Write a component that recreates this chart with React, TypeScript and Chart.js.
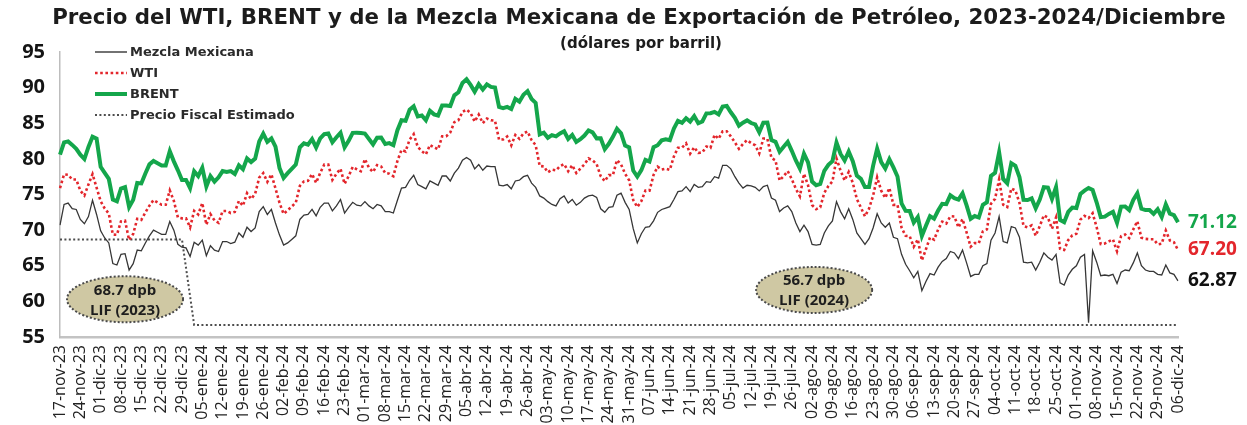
import { useEffect, useRef } from 'react';
import { Chart, registerables } from 'chart.js';
Chart.register(...registerables);

const TITLE = 'Precio del WTI, BRENT y de la Mezcla Mexicana de Exportación de Petróleo, 2023-2024/Diciembre';
const SUBTITLE = '(dólares por barril)';

// Friday labels (one per week)
const weekLabels = [
  '17-nov-23', '24-nov-23', '01-dic-23', '08-dic-23', '15-dic-23', '22-dic-23', '29-dic-23',
  '05-ene-24', '12-ene-24', '19-ene-24', '26-ene-24', '02-feb-24', '09-feb-24', '16-feb-24', '23-feb-24',
  '01-mar-24', '08-mar-24', '15-mar-24', '22-mar-24', '29-mar-24', '05-abr-24', '12-abr-24', '19-abr-24',
  '26-abr-24', '03-may-24', '10-may-24', '17-may-24', '24-may-24', '31-may-24', '07-jun-24', '14-jun-24',
  '21-jun-24', '28-jun-24', '05-jul-24', '12-jul-24', '19-jul-24', '26-jul-24', '02-ago-24', '09-ago-24',
  '16-ago-24', '23-ago-24', '30-ago-24', '06-sep-24', '13-sep-24', '20-sep-24', '27-sep-24', '04-oct-24',
  '11-oct-24', '18-oct-24', '25-oct-24', '01-nov-24', '08-nov-24', '15-nov-24', '22-nov-24', '29-nov-24',
  '06-dic-24',
];

// Daily (Mon..Fri) values, first value = Fri 17-nov-23
const brent = [80.61,
  82.32, 82.45, 81.96, 81.42, 80.58,
  79.98, 81.68, 83.10, 82.83, 78.88,
  78.03, 77.20, 74.30, 74.05, 75.84,
  76.03, 73.24, 74.26, 76.61, 76.55,
  77.95, 79.23, 79.70, 79.39, 79.07,
  79.07, 81.07, 79.65, 78.39, 77.04,
  77.04, 75.89, 78.25, 77.59, 78.76,
  76.12, 77.59, 76.80, 77.41, 78.29,
  78.15, 78.29, 77.88, 79.10, 78.56,
  80.06, 79.55, 80.04, 82.43, 83.55,
  82.40, 82.87, 81.71, 78.70, 77.33,
  77.99, 78.59, 79.21, 81.63, 82.19,
  82.00, 82.77, 81.60, 82.86, 83.47,
  83.56, 82.34, 83.03, 83.67, 81.62,
  82.53, 83.65, 83.68, 83.62, 83.55,
  82.80, 82.04, 82.96, 83.00, 82.08,
  82.21, 81.92, 84.03, 85.42, 85.34,
  86.89, 87.38, 85.95, 86.09, 85.43,
  86.75, 86.25, 86.09, 87.48, 87.48,
  87.42, 88.92, 89.35, 90.65, 91.17,
  90.38, 89.42, 90.48, 89.74, 90.45,
  90.10, 90.02, 87.29, 87.11, 87.29,
  87.00, 88.42, 88.02, 89.01, 89.50,
  88.40, 87.86, 83.44, 83.67, 82.96,
  83.33, 83.16, 83.58, 83.88, 82.79,
  83.36, 82.38, 82.75, 83.27, 83.98,
  83.71, 82.88, 82.90, 81.36, 82.12,
  83.10, 84.22, 83.60, 81.86, 81.62,
  78.36, 77.52, 78.41, 79.87, 79.62,
  81.63, 81.92, 82.60, 82.75, 82.62,
  84.25, 85.33, 85.07, 85.71, 85.24,
  86.01, 85.01, 85.25, 86.39, 86.41,
  86.60, 86.24, 87.34, 87.43, 86.54,
  85.75, 84.66, 85.08, 85.40, 85.03,
  84.85, 83.73, 85.08, 85.11, 82.63,
  82.40, 81.01, 81.71, 82.37, 81.13,
  79.78, 78.63, 80.72, 79.52, 76.81,
  76.30, 76.48, 78.33, 79.16, 79.66,
  82.30, 80.69, 79.76, 81.04, 79.68,
  77.66, 77.20, 76.05, 76.05, 79.02,
  81.43, 79.55, 78.65, 79.94, 78.80,
  77.52, 73.75, 72.70, 72.69, 71.06,
  71.84, 69.19, 70.61, 71.97, 71.61,
  72.75, 73.70, 73.65, 74.88, 74.49,
  74.29, 75.17, 73.46, 71.60, 71.98,
  71.77, 73.56, 73.90, 77.62, 78.05,
  80.93, 77.18, 76.58, 79.40, 79.04,
  77.46, 74.25, 74.22, 74.45, 73.06,
  74.29, 76.04, 75.96, 74.38, 76.05,
  71.42, 71.12, 72.55, 73.16, 73.10,
  75.08, 75.53, 75.92, 75.63, 73.87,
  71.83, 71.89, 72.28, 72.56, 71.04,
  73.30, 73.31, 72.81, 74.23, 75.17,
  73.01, 72.81, 72.83, 72.28, 72.94,
  71.83, 73.62, 72.31, 72.09, 71.12,
];

const wti = [75.89,
  77.83, 77.77, 77.10, 77.10, 75.54,
  74.86, 76.41, 77.86, 75.96, 74.07,
  73.04, 72.32, 69.38, 69.34, 71.23,
  71.32, 68.61, 69.47, 71.58, 71.43,
  72.47, 73.44, 74.22, 73.89, 73.56,
  73.56, 75.57, 74.11, 71.77, 71.65,
  71.65, 70.38, 72.70, 72.19, 73.81,
  70.77, 72.24, 71.37, 71.02, 72.68,
  72.68, 72.40, 72.56, 74.08, 73.41,
  75.19, 74.37, 75.09, 77.36, 78.01,
  76.78, 77.82, 75.85, 73.82, 72.28,
  72.78, 73.31, 73.86, 76.22, 76.84,
  76.92, 77.87, 76.64, 78.03, 79.19,
  79.19, 77.04, 77.91, 78.61, 76.49,
  77.58, 78.87, 78.54, 78.26, 79.97,
  78.74, 78.15, 79.13, 78.93, 78.01,
  77.93, 77.56, 79.72, 81.26, 81.04,
  82.72, 83.47, 81.68, 81.07, 80.63,
  81.95, 81.62, 81.35, 83.17, 83.17,
  83.71, 85.15, 85.43, 86.59, 86.91,
  86.43, 85.23, 86.21, 85.02, 85.66,
  85.41, 85.36, 82.69, 82.73, 83.14,
  81.90, 83.36, 82.81, 83.57, 83.85,
  82.63, 81.93, 79.00, 78.95, 78.11,
  78.48, 78.38, 78.99, 79.26, 78.26,
  79.12, 78.02, 78.63, 79.23, 80.06,
  79.80, 79.26, 77.57, 76.87, 77.72,
  77.72, 79.83, 79.23, 77.91, 76.99,
  74.22, 73.25, 74.07, 75.55, 75.53,
  77.74, 78.90, 78.50, 78.62, 78.45,
  80.33, 81.57, 81.57, 82.17, 80.73,
  81.63, 80.83, 80.90, 81.74, 81.54,
  83.38, 82.81, 83.88, 83.88, 83.16,
  82.33, 81.41, 82.10, 82.62, 82.21,
  81.91, 80.76, 82.85, 82.82, 80.13,
  79.78, 76.96, 77.59, 78.28, 77.16,
  75.81, 74.73, 77.91, 76.31, 73.52,
  72.94, 73.20, 75.23, 76.19, 76.84,
  80.06, 78.35, 76.98, 78.16, 76.65,
  74.37, 73.17, 71.93, 73.01, 74.83,
  77.42, 75.53, 74.52, 75.91, 73.55,
  73.55, 70.34, 69.20, 69.15, 67.67,
  68.71, 65.75, 67.31, 68.97, 68.65,
  70.09, 71.19, 70.91, 71.95, 71.92,
  70.37, 71.56, 69.69, 67.67, 68.18,
  68.17, 69.83, 70.10, 73.71, 74.38,
  77.14, 73.57, 73.24, 75.85, 75.56,
  73.83, 70.58, 70.39, 70.67, 69.22,
  70.56, 72.09, 71.77, 70.19, 71.78,
  67.38, 67.21, 68.61, 69.26, 69.49,
  71.47, 71.99, 71.69, 72.36, 70.38,
  68.04, 68.12, 68.43, 68.70, 67.02,
  69.16, 69.39, 68.87, 70.10, 71.24,
  68.94, 68.77, 68.72, 68.72, 68.00,
  68.10, 69.94, 68.54, 68.30, 67.20,
];

const mezcla = [70.7,
  73.6, 73.8, 73.0, 72.9, 71.5,
  70.9, 71.9, 74.2, 72.2, 69.9,
  68.9, 68.2, 65.3, 65.1, 66.6,
  66.7, 64.4, 65.3, 67.2, 67.1,
  68.2, 69.2, 70.0, 69.7, 69.4,
  69.4, 71.2, 70.0, 68.0, 67.6,
  67.5, 66.3, 68.3, 67.9, 68.6,
  66.4, 67.8, 67.2, 67.0, 68.4,
  68.4, 68.1, 68.3, 69.6, 69.0,
  70.4, 69.8, 70.3, 72.6, 73.3,
  72.2, 72.9, 71.0, 69.3, 67.9,
  68.2, 68.7, 69.2, 71.5, 72.1,
  72.2, 72.9, 72.0, 73.2, 73.8,
  73.8, 72.7, 73.4, 74.3, 72.4,
  73.2, 73.9, 73.5, 73.4, 74.0,
  73.4, 73.0, 73.6, 73.4, 72.6,
  72.6, 72.4, 74.2, 75.9, 76.0,
  77.0, 77.7, 76.4, 76.1, 75.8,
  76.9, 76.6, 76.3, 77.6, 77.6,
  76.9, 78.0, 78.7, 79.8, 80.2,
  79.8, 78.6, 79.2, 78.4, 79.0,
  78.9, 78.9, 76.3, 76.2, 76.4,
  75.8, 76.9, 77.0, 77.5, 77.7,
  76.6, 76.0, 74.8, 74.5, 74.0,
  73.6, 73.4, 74.4, 74.8, 73.8,
  74.3, 73.5, 73.9, 74.5, 74.8,
  74.9, 74.6, 73.0, 72.5, 73.2,
  73.3, 74.9, 75.2, 73.9, 72.9,
  70.2, 68.2, 69.5, 70.4, 70.5,
  71.3, 72.5, 72.9, 73.1, 73.3,
  74.3, 75.4, 75.5, 76.1, 75.4,
  76.4, 76.0, 76.1, 76.8, 76.7,
  77.5, 77.3, 79.1, 79.1, 78.6,
  77.5, 76.6, 75.9, 76.3, 76.2,
  76.0, 75.5, 76.1, 76.3, 74.5,
  74.2, 72.6, 73.1, 73.4, 72.6,
  71.0, 69.8, 70.7, 69.8, 68.0,
  67.9, 68.0, 69.6, 70.6, 71.3,
  74.0, 72.6, 71.6, 73.0, 71.5,
  69.6, 68.8, 68.0, 68.8, 70.3,
  72.3, 71.0, 70.4, 71.0, 69.0,
  68.8, 66.6, 65.2, 64.3, 63.3,
  64.2, 61.5, 62.8, 63.9, 63.7,
  64.8, 65.6, 66.0, 67.0, 66.8,
  66.0, 67.2, 65.4, 63.5, 63.8,
  63.8, 65.0, 65.3, 68.6, 69.6,
  71.9, 68.4, 68.2, 70.5, 70.3,
  69.0, 65.5, 65.4, 65.5, 64.4,
  65.5, 66.8, 66.2, 65.8, 66.6,
  62.6, 62.3, 63.7, 64.5, 65.0,
  66.2, 66.6, 57.0, 67.1, 65.5,
  63.6, 63.7, 63.6, 63.8, 62.5,
  64.1, 64.4, 64.3, 65.4, 66.8,
  65.0, 64.4, 64.2, 64.2, 63.8,
  63.7, 65.1, 64.0, 63.8, 62.87,
];

// Precio fiscal estimado (LIF 2023 / LIF 2024)
const fiscalLevels = [68.7, 56.7];
const fiscalLastIdx2023 = 30; // 29-dic-23
const fiscalFirstIdx2024 = 33;
const fiscalNotes = [
  { lines: ['68.7 dpb', 'LIF (2023)'], idx: 16, value: 60.3 },
  { lines: ['56.7 dpb', 'LIF (2024)'], idx: 185.5, value: 61.6 },
];

const yTicks = [55, 60, 65, 70, 75, 80, 85, 90, 95];

const dayLabels = brent.map((_, i) => (i % 5 === 0 ? weekLabels[i / 5] : ''));
const fiscal = brent.map((_, i) =>
  i <= fiscalLastIdx2023 ? fiscalLevels[0] : i >= fiscalFirstIdx2024 ? fiscalLevels[1] : null
);

const C = {
  brent: '#14a64b',
  wti: '#e3262c',
  mezcla: '#363636',
  fiscal: '#4d4d4d',
  text: '#1c1c1c',
};

const legendItems = [
  { label: 'Mezcla Mexicana', color: C.mezcla, width: 1.4, dash: [] as number[] },
  { label: 'WTI', color: C.wti, width: 2.6, dash: [2.6, 2.6] },
  { label: 'BRENT', color: C.brent, width: 4, dash: [] as number[] },
  { label: 'Precio Fiscal Estimado', color: C.fiscal, width: 2, dash: [2, 2.4] },
];

function fitFont(ctx: CanvasRenderingContext2D, text: string, weight: string, family: string, target: number, base: number) {
  ctx.font = `${weight} ${base}px ${family}`;
  const w = ctx.measureText(text).width;
  const size = (base * target) / w;
  ctx.font = `${weight} ${size.toFixed(2)}px ${family}`;
}

const overlayPlugin = {
  id: 'overlay',
  afterDraw(chart: any) {
    const ctx: CanvasRenderingContext2D = chart.ctx;
    const xs = chart.scales.x;
    const ys = chart.scales.y;
    const area = chart.chartArea;
    ctx.save();

    // Title & subtitle
    ctx.fillStyle = C.text;
    ctx.textAlign = 'center';
    ctx.textBaseline = 'middle';
    fitFont(ctx, TITLE, 'bold', '"DejaVu Sans", Verdana, sans-serif', 1174, 18);
    ctx.fillText(TITLE, 639, 18);
    fitFont(ctx, SUBTITLE, 'bold', '"DejaVu Sans", Verdana, sans-serif', 162, 13);
    ctx.fillText(SUBTITLE, 641, 44);

    // Legend
    ctx.textAlign = 'left';
    ctx.font = 'bold 13px "DejaVu Sans", Verdana, sans-serif';
    legendItems.forEach((it, k) => {
      const y = 52 + k * 21;
      ctx.beginPath();
      ctx.strokeStyle = it.color;
      ctx.lineWidth = it.width;
      ctx.setLineDash(it.dash);
      ctx.moveTo(95, y);
      ctx.lineTo(127, y);
      ctx.stroke();
      ctx.setLineDash([]);
      ctx.fillStyle = '#2a2a2a';
      ctx.fillText(it.label, 130, y + 1);
    });

    // Fiscal notes (ellipses)
    fiscalNotes.forEach((n) => {
      const cx = xs.getPixelForValue(n.idx);
      const cy = ys.getPixelForValue(n.value);
      ctx.beginPath();
      ctx.ellipse(cx, cy, 58, 23, 0, 0, Math.PI * 2);
      ctx.fillStyle = '#cfc8a3';
      ctx.fill();
      ctx.setLineDash([2, 2]);
      ctx.lineWidth = 2;
      ctx.strokeStyle = '#4a4a4a';
      ctx.stroke();
      ctx.setLineDash([]);
      ctx.fillStyle = '#1e1e1e';
      ctx.textAlign = 'center';
      ctx.font = 'bold 15px "Open Sans", sans-serif';
      ctx.fillText(n.lines[0], cx, cy - 9);
      ctx.fillText(n.lines[1], cx, cy + 11);
    });

    // End labels
    const last = brent.length - 1;
    const ends = [
      { v: brent[last], color: C.brent },
      { v: wti[last], color: C.wti },
      { v: mezcla[last], color: '#111111' },
    ];
    ctx.textAlign = 'left';
    ctx.font = 'bold 19px "Open Sans", sans-serif';
    ends.forEach((e) => {
      ctx.fillStyle = e.color;
      ctx.fillText(e.v.toFixed(2), area.right + 10, ys.getPixelForValue(e.v));
    });

    ctx.restore();
  },
};

export default function App() {
  const ref = useRef<HTMLCanvasElement | null>(null);
  useEffect(() => {
    document.body.style.margin = '0';
    const canvas = ref.current!;
    const chart = new Chart(canvas, {
      type: 'line',
      data: {
        labels: dayLabels,
        datasets: [
          { label: 'BRENT', data: brent, borderColor: C.brent, borderWidth: 4, pointRadius: 0, tension: 0 },
          { label: 'WTI', data: wti, borderColor: C.wti, borderWidth: 2.6, borderDash: [2.6, 2.6], pointRadius: 0, tension: 0 },
          { label: 'Mezcla Mexicana', data: mezcla, borderColor: C.mezcla, borderWidth: 1.3, pointRadius: 0, tension: 0 },
          { label: 'Precio Fiscal Estimado', data: fiscal, borderColor: C.fiscal, borderWidth: 2, borderDash: [2, 2.4], pointRadius: 0, tension: 0, spanGaps: true },
        ],
      },
      options: {
        responsive: false,
        animation: false,
        layout: { padding: { top: 52, right: 69, bottom: 0, left: 0 } },
        plugins: { legend: { display: false }, tooltip: { enabled: false }, title: { display: false } },
        scales: {
          x: {
            type: 'category',
            grid: { display: false, drawTicks: false },
            border: { display: true, color: '#c3c3c3', width: 2.5 },
            ticks: {
              autoSkip: false,
              minRotation: 90,
              maxRotation: 90,
              padding: 8,
              color: '#222222',
              font: { family: '"Open Sans", sans-serif', size: 16 },
              callback: (_v: any, i: number) => dayLabels[i],
            },
            afterFit: (s: any) => { s.height = 88; },
          },
          y: {
            min: 55,
            max: 95,
            afterBuildTicks: (s: any) => { s.ticks = yTicks.map((v) => ({ value: v })); },
            grid: { display: false, drawTicks: false },
            border: { display: true, color: '#bdbdbd', width: 1.5 },
            ticks: {
              padding: 15,
              color: '#141414',
              font: { family: '"Open Sans", sans-serif', size: 20, weight: 'bold' },
            },
            afterFit: (s: any) => { s.width = 60; },
          },
        },
      },
      plugins: [overlayPlugin],
    } as any);
    return () => chart.destroy();
  }, []);
  return (
    <div style={{ width: 1247, height: 425, background: '#ffffff' }}>
      <canvas ref={ref} width={1247} height={425} />
    </div>
  );
}
